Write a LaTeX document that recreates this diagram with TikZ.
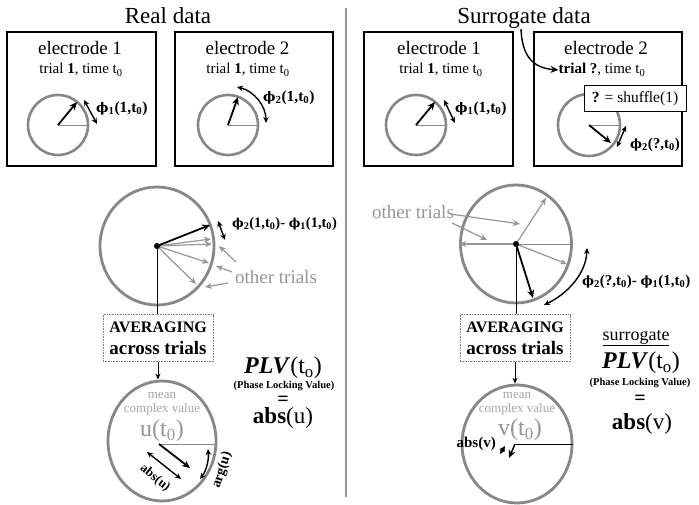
\documentclass[tikz,border=0pt]{standalone}
\usepackage{fontspec}
\setmainfont{Liberation Serif}
\newfontfamily\phifont{DejaVu Serif}
\usetikzlibrary{arrows.meta,shapes.geometric}
\definecolor{ringgray}{RGB}{135,135,135}
\definecolor{trialgray}{RGB}{150,150,150}
\definecolor{meangray}{RGB}{165,165,165}
\newcommand{\fsz}[1]{\fontsize{#1}{#1}\selectfont}
\newcommand{\bphi}[1]{{\phifont\bfseries\scalebox{0.85}{ϕ}}\textbf{\textsubscript{#1}}}
\begin{document}
\begin{tikzpicture}[x=1pt,y=-1pt,
  panel/.style={draw=black,line width=1.1pt,minimum height=134pt,inner sep=0pt},
  smallring/.style={circle,draw=ringgray,line width=2.6pt,minimum size=60pt,inner sep=0pt},
  bigring/.style={ellipse,draw=ringgray,line width=2.8pt,inner sep=0pt},
  radiusline/.style={draw=ringgray,line width=0.7pt},
  ptr/.style={draw=black,line width=1.8pt,-{Stealth[length=8pt,width=7pt]}},
  thinptr/.style={draw=black,line width=1pt,-{Stealth[length=6pt,width=5pt]}},
  gptr/.style={draw=trialgray,line width=1.2pt,-{Stealth[length=7pt,width=6pt]}},
  dbl/.style={draw=black,line width=1.4pt,{Stealth[length=6pt,width=5.5pt]}-{Stealth[length=6pt,width=5.5pt]}},
  avgbox/.style={draw=gray,densely dotted,line width=0.6pt,minimum width=110pt,minimum height=47pt,inner sep=0pt},
  lbl/.style={inner sep=0pt},
]
\useasboundingbox (0,0) rectangle (699,505);
\fill[white] (0,0) rectangle (699,505);

% titles and divider
\node[lbl,anchor=base] (tReal) at (168,24) {\fsz{23}Real data};
\node[lbl,anchor=base] (tSur) at (524,24) {\fsz{23}Surrogate data};
\draw[draw=trialgray,line width=1.5pt] (346,8) -- (346,497);

% panels
\node[panel,minimum width=149pt] (p1) at (81.5,99) {};
\node[panel,minimum width=158pt] (p2) at (254,99) {};
\node[panel,minimum width=149pt] (p3) at (438.5,99) {};
\node[panel,minimum width=148pt] (p4) at (608,99) {};

\node[lbl,anchor=base] (e1) at (80,55) {\fsz{19}electrode 1};
\node[lbl,anchor=base] (e2) at (247.5,55) {\fsz{19}electrode 2};
\node[lbl,anchor=base] (e3) at (439,55) {\fsz{19}electrode 1};
\node[lbl,anchor=base] (e4) at (606,55) {\fsz{19}electrode 2};
\node[lbl,anchor=base] (r1) at (81,74) {\fsz{15}trial \textbf{1}, time t\textsubscript{0}};
\node[lbl,anchor=base] (r2) at (248,74) {\fsz{15}trial \textbf{1}, time t\textsubscript{0}};
\node[lbl,anchor=base] (r3) at (441,74) {\fsz{15}trial \textbf{1}, time t\textsubscript{0}};
\node[lbl,anchor=base] (r4) at (602,74) {\fsz{15}\textbf{trial ?}, time t\textsubscript{0}};

% curved pointer from title
\coordinate (sgA) at (521,29);
\draw[draw=black,line width=1.4pt,-{Stealth[length=8pt,width=7pt]}] (sgA) .. controls (522,55) and (532,68) .. (r4.west);

% small circles
\node[smallring] (k1) at (58,125) {};
\draw[radiusline] (k1.center) -- (k1.east);
\coordinate (k1tip) at (77,102);
\draw[ptr] (k1.center) -- (k1tip);
\coordinate (k1d1) at (84,100); \coordinate (k1d2) at (97,124);
\draw[dbl] (k1d1) -- (k1d2);
\node[lbl,anchor=west] (f1) at (96,109) {\fsz{15.5}\bphi{1}\textbf{(1,t\textsubscript{0})}};

\node[smallring] (k2) at (228,125) {};
\draw[radiusline] (k2.center) -- (k2.east);
\coordinate (k2tip) at (238,97);
\draw[ptr] (k2.center) -- (k2tip);
\coordinate (k2d1) at (237,87); \coordinate (k2d2) at (266,123);
\draw[dbl] (k2d1) .. controls (254,91) and (266,106) .. (k2d2);
\node[lbl,anchor=west] (f2) at (263,98) {\fsz{15.5}\bphi{2}\textbf{(1,t\textsubscript{0})}};

\node[smallring] (k3) at (416,125) {};
\draw[radiusline] (k3.center) -- (k3.east);
\coordinate (k3tip) at (435,102);
\draw[ptr] (k3.center) -- (k3tip);
\coordinate (k3d1) at (444,100); \coordinate (k3d2) at (455,123);
\draw[dbl] (k3d1) -- (k3d2);
\node[lbl,anchor=west] (f3) at (455,109) {\fsz{15.5}\bphi{1}\textbf{(1,t\textsubscript{0})}};

\node[smallring,minimum size=62pt] (k4) at (589,125) {};
\draw[radiusline] (k4.center) -- (k4.east);
\coordinate (k4tip) at (611,143);
\draw[ptr] (k4.center) -- (k4tip);
\coordinate (k4d1) at (617,147); \coordinate (k4d2) at (626,126);
\draw[dbl] (k4d1) -- (k4d2);
\node[lbl,anchor=west] (f4) at (630,145) {\fsz{15}\bphi{2}\textbf{(?,t\textsubscript{0})}};
\node[draw=black,line width=1pt,fill=white,minimum width=102pt,minimum height=26pt,inner sep=0pt] (shuf) at (635,99) {\fsz{15.5}\textbf{?} = shuffle(1)};

% ---------- real middle ----------
\node[bigring,minimum width=114pt,minimum height=118pt] (m1) at (157,246) {};
\coordinate (m1g1) at (211,239); \coordinate (m1g2) at (212,244);
\coordinate (m1g3) at (209,263); \coordinate (m1g4) at (196,284);
\draw[gptr] (m1.center) -- (m1g1);
\draw[gptr] (m1.center) -- (m1g2);
\draw[gptr] (m1.center) -- (m1g3);
\draw[gptr] (m1.center) -- (m1g4);
\coordinate (m1tip) at (210,225);
\draw[ptr] (m1.center) -- (m1tip);
\fill (m1.center) circle[radius=3];
\coordinate (m1d1) at (218,221); \coordinate (m1d2) at (225,240);
\draw[dbl] (m1d1) -- (m1d2);
\node[lbl,anchor=west] (dl1) at (232,224) {\fsz{14.5}\bphi{2}\textbf{(1,t\textsubscript{0})- }\bphi{1}\textbf{(1,t\textsubscript{0})}};
\node[lbl,text=trialgray] (ot1) at (276,277) {\fsz{19}other trials};
\coordinate (ot1a) at (236,262); \coordinate (ot1b) at (219,246);
\coordinate (ot1c) at (232,272); \coordinate (ot1d) at (216,266);
\coordinate (ot1e) at (228,283); \coordinate (ot1f) at (205,287);
\draw[gptr] (ot1a) -- (ot1b);
\draw[gptr] (ot1c) -- (ot1d);
\draw[gptr] (ot1e) -- (ot1f);

\node[avgbox] (avg1) at (158,338) {};
\draw[line width=1pt] (m1.center) -- (m1.center |- avg1.north);
\node[lbl,anchor=base] (avg1a) at (158,332) {\fsz{16}\textbf{AVERAGING}};
\node[lbl,anchor=base] (avg1b) at (158,354) {\fsz{19}\textbf{across trials}};

% ---------- real bottom ----------
\node[bigring,minimum width=108pt,minimum height=120pt] (u1) at (162,441) {};
\draw[thinptr] (avg1.south) -- (avg1.south |- u1.north);
\node[lbl,text=meangray] (mean1) at (162,395) {\fsz{13}mean};
\node[lbl,text=meangray] (cv1) at (162,409) {\fsz{13}complex value};
\node[lbl,text=trialgray] (ut1) at (162,431) {\fsz{24}u(t\textsubscript{0})};
\coordinate (u1o) at (159,444);
\draw[radiusline,line width=1pt] (u1o) -- (u1o -| u1.east);
\coordinate (u1tip) at (190,468);
\draw[ptr] (u1o) -- (u1tip);
\coordinate (u1a1) at (147,452); \coordinate (u1a2) at (181,479);
\draw[dbl] (u1a1) -- (u1a2);
\node[lbl,rotate=-39] (absu) at (155,478) {\fsz{13}\textbf{abs(u)}};
\coordinate (u1g1) at (208,449); \coordinate (u1g2) at (200,479);
\draw[dbl] (u1g1) .. controls (209,461) and (206,471) .. (u1g2);
\node[lbl,rotate=72] (argu) at (222,470) {\fsz{14}\textbf{arg(u)}};

\node[lbl] (plv1) at (283,368) {\fsz{24}\textbf{\textit{PLV}}(t\textsubscript{o})};
\node[lbl] (pn1) at (284,386) {\fsz{10.5}\textbf{(Phase Locking Value)}};
\node[lbl] (eq1) at (283,401) {\fsz{20}\textbf{=}};
\node[lbl] (abs1) at (283,418) {\fsz{23}\textbf{abs}(u)};

% ---------- surrogate middle ----------
\node[bigring,minimum width=111pt,minimum height=118pt] (m2) at (516,244) {};
\draw[radiusline] (m2.center) -- (m2.east);
\draw[gptr] (m2.center) -- (m2.west);
\coordinate (m2g1) at (546,198); \coordinate (m2g2) at (567,264);
\draw[gptr] (m2.center) -- (m2g1);
\draw[gptr] (m2.center) -- (m2g2);
\coordinate (m2tip) at (533,298);
\node[avgbox] (avg2) at (515,338) {};
\draw[line width=1pt] (m2.center) -- (m2.center |- avg2.north);
\draw[ptr] (m2.center) -- (m2tip);
\fill (m2.center) circle[radius=3];
\coordinate (m2d1) at (587,248); \coordinate (m2d2) at (544,305);
\draw[dbl] (m2d1) .. controls (586,274) and (567,294) .. (m2d2);
\node[lbl,anchor=west] (dl2) at (582,282) {\fsz{15}\bphi{2}\textbf{(?,t\textsubscript{0})- }\bphi{1}\textbf{(1,t\textsubscript{0})}};
\node[lbl,text=trialgray] (ot2) at (413,212) {\fsz{19}other trials};
\coordinate (ot2a) at (450,214); \coordinate (ot2b) at (520,224);
\coordinate (ot2c) at (452,223); \coordinate (ot2d) at (487,240);
\draw[gptr] (ot2a) -- (ot2b);
\draw[gptr] (ot2c) -- (ot2d);

\node[lbl,anchor=base] (avg2a) at (515,332) {\fsz{16}\textbf{AVERAGING}};
\node[lbl,anchor=base] (avg2b) at (515,354) {\fsz{19}\textbf{across trials}};

% ---------- surrogate bottom ----------
\node[bigring,minimum width=110pt,minimum height=118pt] (u2) at (517,444) {};
\draw[thinptr] (avg2.south) -- (avg2.south |- u2.north);
\node[lbl,text=meangray] (mean2) at (517,395) {\fsz{13}mean};
\node[lbl,text=meangray] (cv2) at (517,409) {\fsz{13}complex value};
\node[lbl,text=trialgray] (vt2) at (520,430) {\fsz{24}v(t\textsubscript{0})};
\coordinate (u2o) at (515,444);
\draw[draw=black,line width=1pt] (u2o) -- (u2o -| u2.east);
\node[lbl,anchor=east] (absv) at (496,444) {\fsz{15}\textbf{abs(v)}};
\coordinate (u2a1) at (500,454); \coordinate (u2a2) at (505,446);
\draw[dbl] (u2a1) -- (u2a2);
\coordinate (u2tip) at (509,458);
\draw[ptr,line width=1.4pt] (u2o) -- (u2tip);

\node[lbl] (sur2) at (636,338) {\fsz{18}\underline{surrogate}};
\node[lbl] (plv2) at (641,363) {\fsz{24}\textbf{\textit{PLV}}(t\textsubscript{o})};
\node[lbl] (pn2) at (640,383) {\fsz{10.5}\textbf{(Phase Locking Value)}};
\node[lbl] (eq2) at (640,400) {\fsz{20}\textbf{=}};
\node[lbl] (abs2) at (642,424) {\fsz{23}\textbf{abs}(v)};
\end{tikzpicture}
\end{document}
